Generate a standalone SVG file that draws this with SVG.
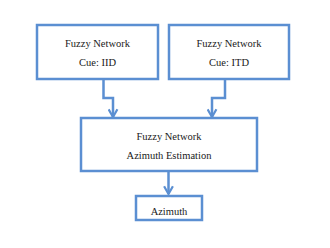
<svg xmlns="http://www.w3.org/2000/svg" width="330" height="248" viewBox="0 0 330 248">
<defs>
<style>
.box{fill:#fff;stroke:#5b8fd2;stroke-width:2.5}
.t{font-family:"Liberation Serif","Times New Roman",serif;font-size:10.5px;fill:#1a1a1a;text-anchor:middle}
.c{fill:none;stroke:#5b8fd2;stroke-width:2.5;stroke-linejoin:miter}
</style>
<marker id="ah" viewBox="0 0 10 10" refX="8" refY="5" markerWidth="4.4" markerHeight="4.4" orient="auto" markerUnits="strokeWidth">
<path d="M1,1 L8,5 L1,9" fill="none" stroke="#5b8fd2" stroke-width="2"/>
</marker>
</defs>
<rect width="330" height="248" fill="#fff"/>
<g id="connectors">
<path class="c" d="M103.5,79 V98 H113 V117" marker-end="url(#ah)"/>
<path class="c" d="M225,79 V98 H212 V117" marker-end="url(#ah)"/>
<path class="c" d="M168.5,171 V194" marker-end="url(#ah)"/>
</g>
<g id="iid">
<rect class="box" x="37" y="25" width="121" height="54"/>
<text class="t" x="97.5" y="46.5">Fuzzy Network</text>
<text class="t" x="97.5" y="65.5">Cue: IID</text>
</g>
<g id="itd">
<rect class="box" x="169" y="25" width="120" height="54"/>
<text class="t" x="229" y="46.5">Fuzzy Network</text>
<text class="t" x="229" y="65.5">Cue: ITD</text>
</g>
<g id="azest">
<rect class="box" x="81" y="118" width="176" height="53"/>
<text class="t" x="169" y="139.5">Fuzzy Network</text>
<text class="t" x="169" y="158.5">Azimuth Estimation</text>
</g>
<g id="azimuth">
<rect class="box" x="136" y="196" width="66" height="24"/>
<text class="t" x="169" y="214.5">Azimuth</text>
</g>
</svg>
